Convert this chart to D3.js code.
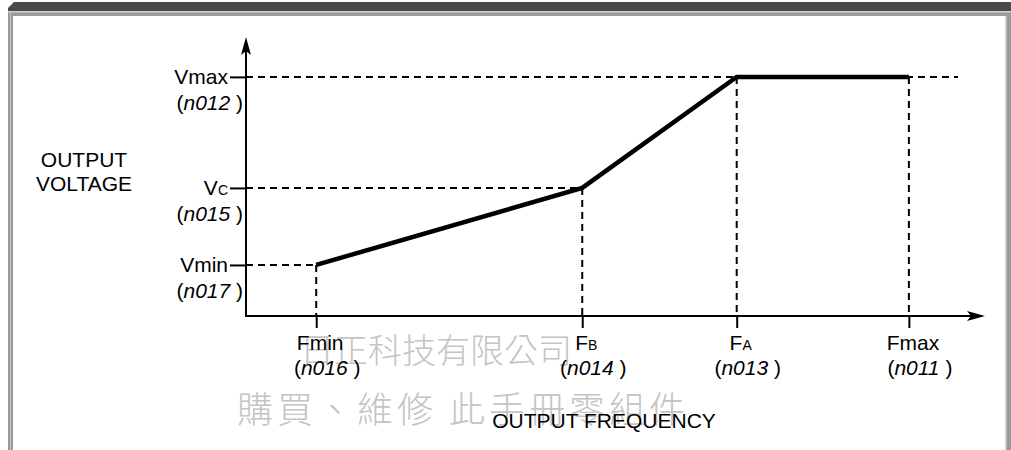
<!DOCTYPE html>
<html>
<head>
<meta charset="utf-8">
<script src="https://cdn.jsdelivr.net/npm/d3@7/dist/d3.min.js"></script>
<style>
  html, body { margin: 0; padding: 0; background: #fff; }
  svg { display: block; }
  text { font-family: "Liberation Sans", Arial, Helvetica, sans-serif; fill: #000; }
</style>
</head>
<body>
<svg id="chart" width="1011" height="450"></svg>
<script>
// ---- data ----
const freqNames   = [["F", "min"], ["F", "B"], ["F", "A"], ["F", "max"]];
const freqSmall   = [false, true, true, false];
const freqParams  = ["n016", "n014", "n013", "n011"];
const freqValues  = [9.5, 45.5, 66.4, 89.7];

const voltNames   = [["V", "min"], ["V", "C"], ["V", "max"]];
const voltSmall   = [false, true, false];
const voltParams  = ["n017", "n015", "n012"];
const voltValues  = [18.3, 45.9, 85.7];

// V/F curve: (Fmin,Vmin) -> (FB,Vc) -> (FA,Vmax) -> (Fmax,Vmax)
const curveFreqIdx = [0, 1, 2, 3];
const curveVoltIdx = [0, 1, 2, 2];

const yTitle = ["OUTPUT", "VOLTAGE"];
const xTitle = "OUTPUT FREQUENCY";
const watermark = ["日正科技有限公司", "購買、維修 此手冊零組件"];

// ---- layout ----
const svg = d3.select("#chart");
const x = d3.scaleLinear().domain([0, 100]).range([246, 985]);
const y = d3.scaleLinear().domain([0, 100]).range([316, 37]);
const x0 = x(0), y0 = y(0);
const FS = 21, FS_SMALL = 14;

// ---- frame ----
svg.append("rect").attr("x", 8).attr("y", 11).attr("width", 1003).attr("height", 439).attr("fill", "#9a9a9a");
svg.append("rect").attr("x", 10).attr("y", 13).attr("width", 1).attr("height", 437).attr("fill", "#c8c8c8");
svg.append("rect").attr("x", 8).attr("y", 11).attr("width", 1003).attr("height", 1.5).attr("fill", "#cfcfcf");
svg.append("rect").attr("x", 13).attr("y", 16).attr("width", 992).attr("height", 434).attr("fill", "#fff");
svg.append("rect").attr("x", 1005).attr("y", 16).attr("width", 1.5).attr("height", 434).attr("fill", "#d8d8d8");
svg.append("path").attr("d", "M14,2 L1011,2 L1011,11 L8,11 L8,8 Z").attr("fill", "#4a4a4a");

// ---- watermark ----
svg.append("text").attr("x", 300).attr("y", 363)
  .style("font-family", "'Noto Sans CJK TC', 'Noto Sans CJK SC', sans-serif")
  .style("font-size", "34px").style("font-weight", 300).style("fill", "#c4c4c4")
  .text(watermark[0]);
svg.append("text").attr("x", 237).attr("y", 423)
  .style("font-family", "'Noto Sans CJK TC', 'Noto Sans CJK SC', sans-serif")
  .style("font-size", "36px").style("font-weight", 300).style("fill", "#c4c4c4")
  .attr("textLength", 448)
  .text(watermark[1]);

// ---- dashed guide lines ----
const dash = "7,5";
const g = svg.append("g");
// horizontal guides
voltValues.forEach((v, i) => {
  const xe = i === 2 ? 958 : x(d3.max(curveFreqIdx.filter((_, k) => curveVoltIdx[k] === i).map(k => freqValues[k])).valueOf() === undefined ? 0 : freqValues[curveFreqIdx[curveVoltIdx.indexOf(i)]]);
  g.append("line").attr("x1", x0).attr("x2", xe).attr("y1", y(v)).attr("y2", y(v))
    .attr("stroke", "#000").attr("stroke-width", 2).attr("stroke-dasharray", dash);
});
// vertical guides
freqValues.forEach((f, i) => {
  const v = voltValues[curveVoltIdx[i]];
  g.append("line").attr("x1", x(f)).attr("x2", x(f)).attr("y1", y(v)).attr("y2", y0)
    .attr("stroke", "#000").attr("stroke-width", 2).attr("stroke-dasharray", dash);
});

// ---- ticks via d3 axes ----
const xAxis = d3.axisBottom(x).tickValues(freqValues).tickSize(12).tickSizeOuter(0).tickFormat("");
const yAxis = d3.axisLeft(y).tickValues(voltValues).tickSize(16).tickSizeOuter(0).tickFormat("");
const gx = svg.append("g").attr("transform", `translate(0,${y0})`).call(xAxis);
const gy = svg.append("g").attr("transform", `translate(${x0},0)`).call(yAxis);
[gx, gy].forEach(a => {
  a.select(".domain").remove();
  a.selectAll(".tick line").attr("stroke", "#000").attr("stroke-width", 2);
});

// ---- axes lines with arrows ----
svg.append("line").attr("x1", x0).attr("x2", x0).attr("y1", y0 + 1).attr("y2", 50)
  .attr("stroke", "#000").attr("stroke-width", 2);
svg.append("path").attr("d", `M${x0},${y(100)} L${x0 + 5},${y(100) + 18} L${x0},${y(100) + 14} L${x0 - 5},${y(100) + 18} Z`).attr("fill", "#000");
svg.append("line").attr("x1", x0 - 1).attr("x2", 975).attr("y1", y0).attr("y2", y0)
  .attr("stroke", "#000").attr("stroke-width", 2);
svg.append("path").attr("d", `M${x(100)},${y0} L${x(100) - 18},${y0 - 5} L${x(100) - 14},${y0} L${x(100) - 18},${y0 + 5} Z`).attr("fill", "#000");

// ---- V/F curve ----
const pts = curveFreqIdx.map((fi, k) => [freqValues[fi], voltValues[curveVoltIdx[k]]]);
svg.append("path").datum(pts)
  .attr("d", d3.line().x(d => x(d[0])).y(d => y(d[1])))
  .attr("fill", "none").attr("stroke", "#000").attr("stroke-width", 4.5)
  .attr("stroke-linejoin", "miter");

// ---- labels ----
function nameText(sel, parts, small) {
  sel.append("tspan").text(parts[0]);
  const t = sel.append("tspan").text(small ? parts[1].toUpperCase() : parts[1]);
  if (small) t.style("font-size", FS_SMALL + "px");
}
function paramText(sel, p) {
  sel.append("tspan").text("(");
  sel.append("tspan").style("font-style", "italic").text(p);
  sel.append("tspan").text(" )");
}

// Y labels
voltValues.forEach((v, i) => {
  const t = svg.append("text").attr("x", 228).attr("y", y(v) + 7)
    .attr("text-anchor", "end").style("font-size", FS + "px");
  nameText(t, voltNames[i], voltSmall[i]);
  const p = svg.append("text").attr("x", 243).attr("y", y(v) + 33)
    .attr("text-anchor", "end").style("font-size", FS + "px");
  paramText(p, voltParams[i]);
});

// X labels
freqValues.forEach((f, i) => {
  const t = svg.append("text").attr("x", x(f) + 4).attr("y", y0 + 34)
    .attr("text-anchor", "middle").style("font-size", FS + "px");
  nameText(t, freqNames[i], freqSmall[i]);
  const p = svg.append("text").attr("x", x(f) + 11).attr("y", y0 + 59)
    .attr("text-anchor", "middle").style("font-size", FS + "px");
  paramText(p, freqParams[i]);
});

// axis titles
yTitle.forEach((s, i) => {
  svg.append("text").attr("x", 84).attr("y", 167 + i * 24)
    .attr("text-anchor", "middle").style("font-size", FS + "px").text(s);
});
svg.append("text").attr("x", 604).attr("y", 428)
  .attr("text-anchor", "middle").style("font-size", FS + "px").text(xTitle);
</script>
</body>
</html>
